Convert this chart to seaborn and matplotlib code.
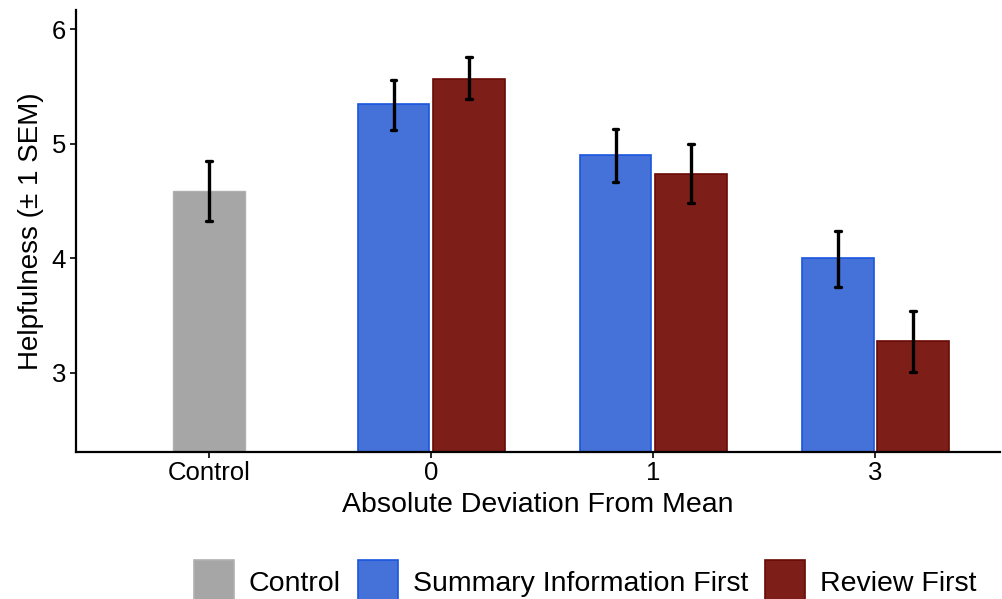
import numpy as np
import pandas as pd
import seaborn as sns
import matplotlib
matplotlib.use("Agg")
import matplotlib.pyplot as plt
from matplotlib.patches import Patch

# ---- data ----
categories = ["Control", "0", "1", "3"]
conditions = ["Summary Information First", "Review First"]
control_mean = [4.59]
control_lo = [4.33]
control_hi = [4.85]
summary_mean = [5.35, 4.90, 4.00]
summary_lo = [5.12, 4.67, 3.75]
summary_hi = [5.56, 5.13, 4.24]
review_mean = [5.57, 4.74, 3.28]
review_lo = [5.39, 4.48, 3.01]
review_hi = [5.76, 5.00, 3.54]
legend_labels = ["Control", "Summary Information First", "Review First"]

colors = {"Control": "#A6A6A6", "Summary Information First": "#4472D8", "Review First": "#7D1F18"}
edges = {"Control": "#B0B0B0", "Summary Information First": "#1A55E0", "Review First": "#6A0A05"}

sns.set_style("white")
plt.rcParams["font.family"] = ["Liberation Sans", "DejaVu Sans"]

ctrl_df = pd.DataFrame({"dev": ["Control"], "help": control_mean})
grp_df = pd.DataFrame({
    "dev": categories[1:] * 2,
    "cond": [conditions[0]] * 3 + [conditions[1]] * 3,
    "help": summary_mean + review_mean,
})

fig = plt.figure(figsize=(10.02, 5.99), dpi=100)
ax = fig.add_axes([0.0758, 0.2459, 0.922, 0.7374])

sns.barplot(data=ctrl_df, x="dev", y="help", order=categories, color=colors["Control"],
            width=0.323, errorbar=None, ax=ax, saturation=1, edgecolor=edges["Control"], linewidth=1)
sns.barplot(data=grp_df, x="dev", y="help", hue="cond", order=categories, hue_order=conditions,
            palette=[colors[c] for c in conditions], width=0.68, gap=0.05, errorbar=None,
            ax=ax, saturation=1, legend=False, linewidth=1.2)

for p in ax.patches:
    fc = matplotlib.colors.to_hex(p.get_facecolor())
    for k, v in colors.items():
        if fc.lower() == v.lower():
            p.set_edgecolor(edges[k])

# error bars at bar centres
bars = [p for p in ax.patches if p.get_height() > 0]
bars_sorted = sorted(bars, key=lambda p: p.get_x())
lo_all = control_lo + [v for pair in zip(summary_lo, review_lo) for v in pair]
hi_all = control_hi + [v for pair in zip(summary_hi, review_hi) for v in pair]
for p, lo, hi in zip(bars_sorted, lo_all, hi_all):
    xc = p.get_x() + p.get_width() / 2
    ax.plot([xc, xc], [lo, hi], color="black", lw=2.4, solid_capstyle="butt", zorder=5)
    for yv in (lo, hi):
        ax.plot([xc - 0.013, xc + 0.013], [yv, yv], color="black", lw=2.4, zorder=5)

ax.set_xlim(-0.6, 3.56)
ax.set_ylim(2.31, 6.17)
ax.set_yticks([3, 4, 5, 6])
ax.set_yticklabels(["3", "4", "5", "6"])
ax.tick_params(axis="both", which="major", labelsize=18.5, length=4, width=1.2,
               direction="out", bottom=True, left=True, color="black", labelcolor="black", pad=3)
for s in ["top", "right"]:
    ax.spines[s].set_visible(False)
for s in ["left", "bottom"]:
    ax.spines[s].set_color("black")
    ax.spines[s].set_linewidth(1.6)

ax.set_xlabel("Absolute Deviation From Mean", fontsize=20.5, color="black", labelpad=5)
ax.set_ylabel("Helpfulness (± 1 SEM)", fontsize=20, color="black", labelpad=6)

handles = [Patch(facecolor=colors[k], edgecolor=edges[k], linewidth=1.2) for k in legend_labels]
fig.legend(handles, legend_labels, loc="center", bbox_to_anchor=(0.5843, 0.028), ncol=3,
           frameon=False, fontsize=20.5, handlelength=1.4, handleheight=2.0,
           handletextpad=0.53, columnspacing=0.6, borderaxespad=0, labelcolor="black")

fig.savefig("out.png", dpi=100, facecolor="white")
